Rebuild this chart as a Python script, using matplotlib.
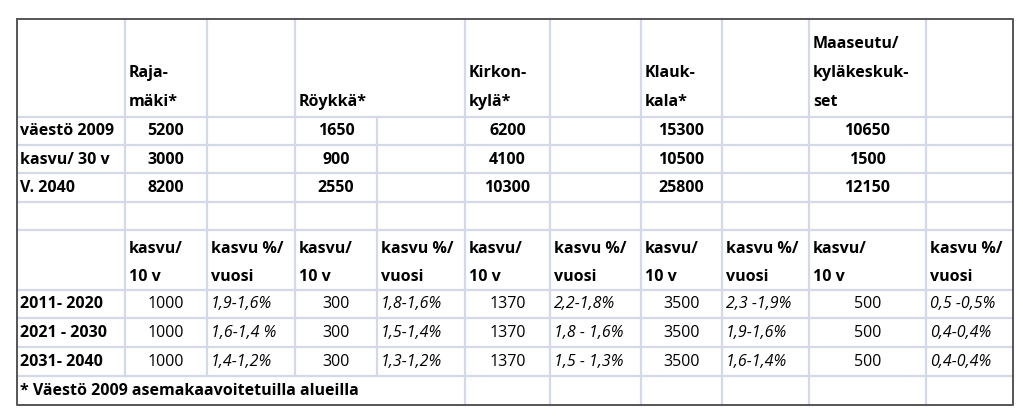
import matplotlib
matplotlib.use("Agg")
import matplotlib.pyplot as plt

areas = ["Raja-\nmäki*", "Röykkä*", "Kirkon-\nkylä*", "Klauk-\nkala*", "Maaseutu/\nkyläkeskuk-\nset"]
row_labels_top = ["väestö 2009", "kasvu/ 30 v", "V. 2040"]
pop2009 = [5200, 1650, 6200, 15300, 10650]
growth30 = [3000, 900, 4100, 10500, 1500]
pop2040 = [8200, 2550, 10300, 25800, 12150]
periods = ["2011- 2020", "2021 - 2030", "2031- 2040"]
growth10 = [1000, 300, 1370, 3500, 500]
pct = [["1,9-1,6%", "1,8-1,6%", "2,2-1,8%", "2,3 -1,9%", "0,5 -0,5%"],
       ["1,6-1,4 %", "1,5-1,4%", "1,8 - 1,6%", "1,9-1,6%", "0,4-0,4%"],
       ["1,4-1,2%", "1,3-1,2%", "1,5 - 1,3%", "1,6-1,4%", "0,4-0,4%"]]
sub_a = "kasvu/\n10 v"
sub_b = "kasvu %/\nvuosi"
footnote = "* Väestö 2009 asemakaavoitetuilla alueilla"

plt.rcParams['font.family'] = ['Open Sans', 'DejaVu Sans']
fig = plt.figure(figsize=(10.23, 4.17), dpi=100)
ax = fig.add_axes([0, 0, 1, 1])
ax.set_xlim(0, 1023); ax.set_ylim(417, 0); ax.axis('off')

xs = [17, 125, 207, 295, 377, 465, 550, 641, 722, 809, 926, 1013]
ys = [19, 117, 145, 173, 202, 230, 290, 318, 347, 376, 405]
gc = '#d3d9e6'; lw = 1.6
for y in ys[1:-1]:
    ax.plot([xs[0], xs[-1]], [y, y], color=gc, lw=lw, zorder=1)
for x in xs[1:-1]:
    top = ys[0] if x != 377 else ys[1]
    bot = ys[-1] if x >= 465 else ys[-2]
    ax.plot([x, x], [top, bot], color=gc, lw=lw, zorder=1)
ax.plot([xs[0], xs[-1], xs[-1], xs[0], xs[0]], [ys[0], ys[0], ys[-1], ys[-1], ys[0]],
        color='#555555', lw=1.4, zorder=2)

fs = 11.5
bw = 'bold'
lefts = [xs[1], xs[3], xs[5], xs[7], xs[9]]
for a, xl in zip(areas, lefts):
    lines = a.split("\n")
    n = len(lines)
    for k, ln in enumerate(lines):
        y = 102 - (n - 1 - k) * 29
        ax.text(xl + 4, y, ln, fontsize=fs, fontweight=bw, va='center', ha='left')
centers = [(xs[1+2*j]+xs[2+2*j])/2 for j in range(5)]
rowy = [131, 160, 188]
for lab, vals, y in zip(row_labels_top, [pop2009, growth30, pop2040], rowy):
    ax.text(20, y, lab, fontsize=fs, fontweight=bw, va='center', ha='left')
    for c, v in zip(centers, vals):
        ax.text(c, y, str(v), fontsize=fs, fontweight=bw, va='center', ha='center')
for j in range(5):
    xa = xs[1 + 2*j]; xb = xs[2 + 2*j]
    for k, ln in enumerate(sub_a.split("\n")):
        ax.text(xa + 4, 249 + 28*k, ln, fontsize=fs, fontweight=bw, va='center', ha='left')
    for k, ln in enumerate(sub_b.split("\n")):
        ax.text(xb + 4, 249 + 28*k, ln, fontsize=fs, fontweight=bw, va='center', ha='left')
rowy2 = [304, 333, 362]
for i, (p, y) in enumerate(zip(periods, rowy2)):
    ax.text(20, y, p, fontsize=fs, fontweight=bw, va='center', ha='left')
    for j in range(5):
        ax.text(centers[j], y, str(growth10[j]), fontsize=fs, va='center', ha='center')
        ax.text(xs[2 + 2*j] + 4, y, pct[i][j], fontsize=fs, style='italic', va='center', ha='left')
ax.text(20, 391, footnote, fontsize=fs, fontweight=bw, va='center', ha='left')

fig.savefig("out.png", dpi=100, facecolor='white')
